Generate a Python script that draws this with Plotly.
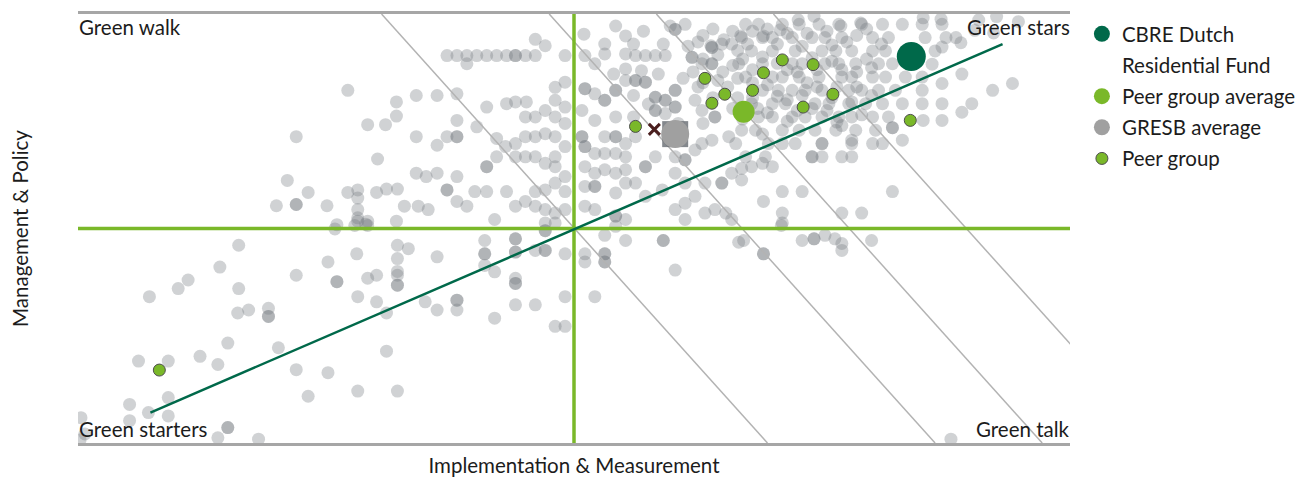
import plotly.graph_objects as go

# ---------------- text ----------------
x_title = "Implementation & Measurement"
y_title = "Management & Policy"
label_walk = "Green walk"
label_stars = "Green stars"
label_starters = "Green starters"
label_talk = "Green talk"
name_fund_line1 = "CBRE Dutch"
name_fund_line2 = "Residential Fund"
name_peer_avg = "Peer group average"
name_gresb_avg = "GRESB average"
name_peer = "Peer group"

# ---------------- highlighted entities (I&M score, M&P score) ----------------
fund_x, fund_y = [84.0], [90.1]
peer_avg_x, peer_avg_y = [67.1], [77.2]
gresb_avg_x, gresb_avg_y = [60.2], [72.0]
marker_cross_x, marker_cross_y = [58.1], [73.1]

peer_x = [63.2, 71.0, 74.1, 69.1, 65.2, 68.0, 63.9, 73.1, 76.1, 56.2, 83.9, 8.2]
peer_y = [85.0, 89.3, 88.2, 86.3, 81.3, 82.2, 79.2, 78.3, 81.3, 73.8, 75.2, 17.0]

# ---------------- reference lines ----------------
quadrant_split = 50
trend_x = [7.3, 93.2]
trend_y = [7.1, 93.0]
# iso-score lines: x where each line meets M&P = 100 and M&P = 0
iso_x_at_top = [30.6, 47.5, 58.3, 70.1]
iso_x_at_bottom = [69.5, 86.4, 97.2, 109.0]

# ---------------- GRESB universe (background cloud) ----------------
cloud_walk_far = [(27.2, 82.2), (32.1, 79.5), (32.1, 76.2), (29.2, 74.2), (31.0, 74.2), (22.0, 71.4),
                  (30.2, 66.2), (21.1, 61.2), (23.2, 58.4), (27.2, 58.4), (28.2, 59.0), (28.2, 57.1),
                  (30.1, 58.4), (31.1, 59.2), (32.2, 59.2), (20.0, 55.3), (22.0, 55.6), (22.0, 55.6),
                  (25.1, 55.3), (28.2, 54.4), (32.9, 55.2), (28.2, 51.7), (28.2, 52.5), (29.2, 51.7),
                  (29.0, 51.0), (32.1, 51.7), (26.1, 50.9)]
cloud_walk_near = [(46.1, 94.1), (47.1, 92.6), (37.2, 90.3), (38.2, 90.3), (39.2, 90.3), (40.2, 90.3),
                   (41.2, 90.3), (42.2, 90.3), (43.2, 90.3), (44.1, 90.3), (44.1, 90.3), (45.1, 90.3),
                   (46.1, 90.3), (39.2, 88.4), (49.1, 90.3), (49.1, 84.1), (48.1, 82.9), (34.1, 81.0),
                   (36.2, 81.0), (38.2, 81.4), (41.2, 78.3), (43.2, 79.1), (44.1, 79.5), (45.2, 79.5),
                   (45.1, 76.0), (46.1, 76.0), (47.1, 77.5), (48.1, 79.9), (49.1, 78.3), (48.1, 76.0),
                   (49.1, 74.5), (38.2, 75.2), (40.2, 73.7), (34.1, 71.4), (36.2, 69.4), (37.2, 71.4),
                   (38.2, 71.4), (38.2, 71.4), (42.2, 71.0), (43.1, 69.1), (44.1, 69.8), (45.1, 71.4),
                   (46.1, 71.4), (47.1, 72.1), (48.1, 71.4), (41.2, 64.4), (41.2, 64.4), (42.2, 66.7),
                   (44.1, 66.7), (45.1, 66.7), (46.1, 66.7), (47.1, 65.2), (48.1, 66.7), (49.1, 69.1),
                   (48.1, 64.4), (49.1, 62.1), (34.1, 62.9), (35.1, 62.1), (36.2, 62.9), (37.2, 59.0),
                   (37.2, 59.0), (38.2, 62.1), (40.0, 58.6), (41.2, 58.6), (43.2, 58.6), (45.1, 56.3),
                   (46.1, 58.6), (47.1, 59.0), (48.1, 60.6), (49.1, 58.6), (34.3, 55.2), (35.3, 54.4),
                   (38.2, 56.3), (39.2, 55.2), (42.0, 52.1), (44.1, 55.2), (46.1, 55.2), (47.1, 54.4),
                   (48.1, 53.6), (49.1, 54.4), (47.1, 51.3), (48.1, 51.3)]
cloud_stars_mid = [(51.0, 95.3), (54.2, 97.2), (55.2, 94.9), (53.1, 93.0), (60.2, 96.4), (60.2, 96.4),
                   (61.2, 97.6), (51.1, 90.3), (53.1, 90.7), (55.2, 90.7), (56.2, 90.3), (57.2, 90.3),
                   (58.2, 90.3), (59.2, 90.3), (52.1, 88.4), (55.2, 87.2), (56.8, 86.8), (51.1, 82.6),
                   (51.1, 82.6), (52.1, 81.4), (53.1, 79.9), (53.1, 79.9), (54.2, 82.2), (54.2, 82.2),
                   (55.2, 84.5), (56.2, 84.5), (56.2, 84.5), (57.2, 84.1), (57.2, 84.1), (58.2, 80.6),
                   (58.2, 80.6), (59.2, 79.9), (59.2, 79.9), (60.2, 82.2), (60.2, 82.2), (60.2, 78.3),
                   (60.2, 78.3), (58.2, 77.5), (58.2, 77.5), (59.2, 76.8), (61.9, 89.9), (61.9, 89.9),
                   (62.9, 88.4), (63.9, 92.2), (63.9, 92.2), (64.9, 93.0), (65.9, 93.0), (63.9, 88.4),
                   (63.9, 88.4), (62.2, 79.9), (62.9, 77.5), (64.2, 76.0), (64.2, 76.0), (65.6, 71.4),
                   (66.3, 69.8), (50.8, 77.5), (50.8, 71.4), (50.8, 71.4), (51.1, 69.1), (51.1, 69.1),
                   (52.1, 75.2), (54.2, 76.0), (53.1, 71.4), (54.2, 71.4), (54.2, 71.4), (55.2, 69.8),
                   (56.2, 71.4), (52.1, 67.5), (53.1, 67.5), (54.2, 67.5), (55.2, 66.7), (57.2, 64.4),
                   (57.2, 64.4), (58.2, 66.7), (60.2, 66.7), (61.2, 66.0), (61.2, 66.0), (62.2, 68.3),
                   (62.9, 69.8), (63.9, 70.6), (51.1, 64.4), (52.1, 62.9), (53.1, 63.7), (54.2, 62.9),
                   (55.2, 63.7), (55.2, 60.6), (56.2, 60.6), (52.1, 59.8), (52.1, 59.8), (51.1, 59.8),
                   (54.2, 58.3), (57.2, 57.5), (58.9, 59.0), (60.2, 62.9), (61.2, 60.6), (63.2, 60.6),
                   (64.9, 60.6), (64.9, 60.6), (65.9, 62.9), (61.2, 55.9), (62.2, 57.5), (60.2, 54.4),
                   (51.1, 55.2), (54.2, 52.9), (54.2, 52.9), (55.2, 52.1), (52.1, 54.4), (63.2, 53.6),
                   (64.2, 54.4), (65.3, 53.6), (65.9, 52.1), (61.2, 52.1)]
cloud_stars_top = [(59.7, 97.2), (63.8, 92.6), (65.1, 94.0), (66.8, 94.9), (69.1, 94.9), (70.8, 96.3),
                   (72.6, 98.6), (74.2, 99.5), (76.9, 97.2), (78.9, 97.9), (63.0, 95.0), (64.5, 90.5),
                   (66.0, 88.0), (63.0, 84.0), (65.5, 83.0), (62.0, 86.5), (64.0, 80.5), (66.0, 78.0),
                   (61.5, 92.5), (66.5, 91.5)]
cloud_stars_dense = [(67.3, 97.6), (68.6, 97.6), (71.0, 97.6), (72.7, 97.6), (74.7, 97.6), (76.7, 97.6),
                     (79.0, 97.6), (81.1, 97.6), (83.1, 97.6), (85.1, 97.6), (87.1, 97.6),
                     (66.9, 94.5), (69.0, 94.5), (70.0, 94.5), (72.0, 94.5), (74.0, 94.5), (75.3, 94.5),
                     (77.0, 94.5), (80.1, 94.5), (81.7, 94.5), (85.4, 94.5), (87.5, 94.5),
                     (67.9, 91.4), (70.0, 91.4), (72.3, 91.4), (75.0, 91.4), (76.4, 91.4), (78.0, 91.4),
                     (80.1, 91.4), (81.4, 91.4), (86.4, 91.4),
                     (66.6, 88.4), (69.0, 88.4), (72.0, 88.4), (73.0, 88.4), (75.3, 88.4), (76.7, 88.4),
                     (78.4, 88.4), (80.7, 88.4), (82.1, 88.4),
                     (67.3, 85.3), (70.0, 85.3), (71.0, 85.3), (72.7, 85.3), (74.7, 85.3), (77.0, 85.3),
                     (78.0, 85.3), (80.1, 85.3), (81.4, 85.3), (83.4, 85.3), (85.1, 85.3),
                     (69.0, 82.2), (70.6, 82.2), (72.0, 82.2), (73.3, 82.2), (75.0, 82.2), (77.7, 82.2),
                     (79.0, 82.2), (80.7, 82.2), (82.4, 82.2), (85.1, 82.2),
                     (67.9, 79.1), (70.0, 79.1), (71.3, 79.1), (74.3, 79.1), (75.7, 79.1), (77.7, 79.1),
                     (79.4, 79.1), (81.1, 79.1), (83.1, 79.1),
                     (68.6, 76.0), (70.0, 76.0), (72.0, 76.0), (73.3, 76.0), (75.0, 76.0), (76.7, 76.0),
                     (78.0, 76.0), (80.1, 76.0), (81.7, 76.0),
                     (66.9, 72.9), (68.3, 72.9), (71.0, 72.9), (72.7, 72.9), (74.3, 72.9), (76.4, 72.9),
                     (78.4, 72.9), (80.4, 72.9),
                     (69.6, 69.8), (71.0, 69.8), (72.3, 69.8), (75.0, 69.8), (78.0, 69.8), (80.1, 69.8),
                     (67.3, 66.7), (69.3, 66.7), (74.0, 66.7), (75.0, 66.7), (77.0, 66.7), (78.0, 66.7),
                     (68.0, 96.0), (70.5, 93.0), (73.5, 95.5), (76.0, 92.8), (78.5, 95.0), (69.0, 90.0),
                     (71.5, 87.0), (74.0, 89.8), (77.0, 87.0), (79.5, 89.5), (68.0, 84.0), (70.5, 80.8),
                     (73.5, 84.0), (76.0, 80.5), (78.5, 83.0), (68.5, 78.0), (71.5, 75.0), (74.0, 78.0),
                     (76.5, 74.8), (69.0, 72.0)]
cloud_stars_core = [(62.5, 93.5), (64.0, 96.5), (66.0, 96.0), (67.5, 93.0), (69.5, 96.5), (71.5, 95.5),
                    (73.0, 92.5), (75.5, 96.0), (77.5, 93.5), (79.5, 96.5), (81.0, 93.0), (63.0, 89.5),
                    (65.0, 86.5), (67.0, 89.5), (68.0, 87.0), (70.5, 88.5), (72.5, 86.5), (74.5, 87.0),
                    (76.0, 89.0), (78.5, 86.5), (80.0, 87.5), (62.5, 83.0), (64.5, 84.5), (66.5, 85.0),
                    (68.0, 80.5), (69.5, 83.5), (71.5, 80.0), (73.0, 81.0), (74.5, 83.0), (76.5, 83.0),
                    (78.0, 79.5), (80.0, 81.0), (66.5, 80.5), (67.0, 75.5), (69.5, 77.0), (72.5, 77.5),
                    (75.5, 77.5), (77.0, 74.0), (79.0, 76.5), (63.0, 74.5), (60.5, 74.5), (57.5, 79.0),
                    (56.0, 76.0), (58.5, 86.0), (54.0, 86.0), (56.0, 81.0), (61.0, 85.0), (59.0, 93.0),
                    (57.0, 96.0), (56.0, 93.0)]
cloud_stars_edge = [(71.0, 58.6), (73.0, 58.6), (69.1, 56.3), (71.0, 53.6), (77.0, 53.6), (79.0, 53.6),
                    (82.1, 58.6), (71.0, 51.3), (66.9, 64.0), (67.9, 64.4), (69.0, 65.2), (70.0, 64.4),
                    (66.9, 61.3), (74.0, 66.7), (75.0, 69.8), (78.0, 70.6), (81.1, 69.8), (83.1, 70.6),
                    (82.1, 73.5), (82.1, 73.5), (87.1, 75.2), (85.2, 75.2), (85.1, 79.1), (87.1, 79.1),
                    (89.1, 77.1), (90.1, 79.1), (92.2, 82.2), (94.2, 83.8), (87.1, 83.8), (89.1, 86.0),
                    (86.1, 88.3), (87.1, 92.3), (88.5, 94.5), (89.0, 93.3), (85.2, 99.1), (87.0, 98.8),
                    (90.8, 98.6), (92.6, 99.4), (94.8, 98.2), (90.4, 96.2), (92.3, 95.6)]
cloud_starters = [(16.2, 46.1), (14.3, 41.0), (11.1, 38.0), (10.1, 36.0), (7.2, 34.1), (16.2, 36.0),
                  (17.2, 31.0), (16.1, 30.3), (19.2, 31.4), (19.2, 29.5), (19.2, 29.5), (15.1, 23.3),
                  (20.2, 22.2), (12.3, 20.2), (14.1, 18.3), (9.1, 19.1), (6.1, 19.1), (5.2, 9.0),
                  (9.1, 10.6), (7.1, 7.1), (9.1, 6.3), (5.2, 5.2), (15.1, 3.6), (15.1, 3.6), (18.2, 0.9),
                  (14.1, 1.2), (0.3, 5.9), (0.7, 2.1), (0.2, 0.7), (22.0, 39.1), (22.0, 17.1), (25.2, 42.2),
                  (26.1, 37.6), (26.1, 37.6), (28.1, 44.1), (28.2, 34.1), (29.2, 38.4), (30.1, 39.1),
                  (30.1, 32.9), (31.1, 30.3), (31.1, 21.4), (25.2, 16.4), (23.2, 10.9), (28.2, 12.1),
                  (32.2, 12.1), (32.2, 46.1), (32.2, 43.0), (32.2, 40.0), (32.2, 39.1), (32.2, 36.8),
                  (32.2, 36.8), (25.9, 49.9), (27.9, 50.7), (29.2, 50.7)]
cloud_starters_near = [(33.3, 45.3), (36.2, 43.4), (41.0, 47.2), (41.0, 44.1), (41.0, 44.1), (41.0, 41.4),
                       (42.0, 39.9), (44.1, 47.6), (44.1, 47.6), (44.1, 44.5), (44.1, 44.5), (46.1, 44.9),
                       (47.1, 44.9), (47.1, 44.9), (47.1, 49.5), (47.1, 49.5), (49.1, 44.1), (44.1, 38.4),
                       (44.1, 37.2), (44.1, 37.2), (35.0, 32.9), (36.2, 31.0), (38.2, 33.3), (38.2, 33.3),
                       (38.2, 31.0), (42.0, 29.1), (44.1, 32.2), (46.1, 32.2), (49.1, 34.1), (48.1, 27.2),
                       (49.1, 27.2)]
cloud_talk = [(51.1, 44.1), (51.1, 42.2), (53.1, 48.4), (53.1, 44.1), (53.1, 44.1), (53.1, 42.2),
              (53.1, 42.2), (55.2, 47.2), (59.0, 47.2), (59.0, 47.2), (60.2, 40.3), (52.1, 34.1),
              (54.2, 50.5), (66.6, 46.8), (67.1, 47.2), (69.1, 44.1), (69.1, 44.1), (73.0, 47.2),
              (74.2, 47.6), (74.2, 47.6), (75.3, 48.4), (76.3, 47.6), (77.0, 46.5), (77.0, 44.9),
              (80.0, 47.2), (70.9, 50.7), (88.0, 0.9)]

cloud = (cloud_walk_far + cloud_walk_near + cloud_stars_mid + cloud_stars_top + cloud_stars_dense
         + cloud_stars_core + cloud_stars_edge + cloud_starters + cloud_starters_near + cloud_talk)
cloud_x = [p[0] for p in cloud]
cloud_y = [p[1] for p in cloud]

# ---------------- styles ----------------
FONT = "Lato, 'Open Sans', sans-serif"
FS = 20.5
TEXT_COLOR = "#1c1c1c"
LIME = "#7AB829"
DARK_GREEN = "#00694A"
GREY_DOT = "rgb(118,123,130)"

fig = go.Figure()

# background cloud
fig.add_trace(go.Scatter(x=cloud_x, y=cloud_y, mode="markers", showlegend=False, hoverinfo="skip",
                         marker=dict(size=13, color=GREY_DOT, opacity=0.34, line=dict(width=0))))

# iso-score diagonal lines
iso_x, iso_y = [], []
for xt, xb in zip(iso_x_at_top, iso_x_at_bottom):
    iso_x += [xt, xb, None]
    iso_y += [100, 0, None]
fig.add_trace(go.Scatter(x=iso_x, y=iso_y, mode="lines", showlegend=False, hoverinfo="skip",
                         line=dict(color="#B3B3B3", width=1.5)))

# quadrant cross
fig.add_trace(go.Scatter(x=[quadrant_split, quadrant_split, None, 0, 100],
                         y=[0, 100, None, quadrant_split, quadrant_split],
                         mode="lines", showlegend=False, hoverinfo="skip",
                         line=dict(color=LIME, width=3.5)))

# trend diagonal
fig.add_trace(go.Scatter(x=trend_x, y=trend_y, mode="lines", showlegend=False, hoverinfo="skip",
                         line=dict(color=DARK_GREEN, width=2.5)))

# square highlight behind GRESB average
fig.add_trace(go.Scatter(x=gresb_avg_x, y=gresb_avg_y, mode="markers", showlegend=False, hoverinfo="skip",
                         marker=dict(symbol="square", size=26, color="rgba(85,90,97,0.72)",
                                     line=dict(width=0))))

# cross marker
fig.add_trace(go.Scatter(x=marker_cross_x, y=marker_cross_y, mode="markers", showlegend=False,
                         hoverinfo="skip",
                         marker=dict(symbol="x-thin-open", size=11, color="#4A1E1E",
                                     line=dict(width=3, color="#4A1E1E"))))

# legend traces
fig.add_trace(go.Scatter(x=gresb_avg_x, y=gresb_avg_y, mode="markers", name=name_gresb_avg,
                         legendrank=4, legendgroup="g4",
                         marker=dict(size=28, color="#A0A0A0", line=dict(width=0))))
fig.add_trace(go.Scatter(x=peer_x, y=peer_y, mode="markers", name=name_peer,
                         legendrank=5, legendgroup="g5",
                         marker=dict(size=12, color=LIME, line=dict(width=1, color="#4D4D4D"))))
fig.add_trace(go.Scatter(x=peer_avg_x, y=peer_avg_y, mode="markers", name=name_peer_avg,
                         legendrank=3, legendgroup="g3",
                         marker=dict(size=22, color=LIME, line=dict(width=0))))
fig.add_trace(go.Scatter(x=fund_x, y=fund_y, mode="markers", name=name_fund_line1,
                         legendrank=1, legendgroup="g1",
                         marker=dict(size=29, color=DARK_GREEN, line=dict(width=0))))
# second line of the fund's legend label (no symbol of its own)
fig.add_trace(go.Scatter(x=[None], y=[None], mode="markers", name=name_fund_line2,
                         legendrank=2, legendgroup="g2", hoverinfo="skip",
                         marker=dict(size=1, color="rgba(0,0,0,0)", line=dict(width=0))))

# quadrant labels
qfont = dict(family=FONT, size=FS, color=TEXT_COLOR)
fig.add_annotation(x=0, y=100, text=label_walk, showarrow=False, xanchor="left", yanchor="top",
                   font=qfont, xshift=-1, yshift=1)
fig.add_annotation(x=100, y=100, text=label_stars, showarrow=False, xanchor="right", yanchor="top",
                   font=qfont, xshift=2, yshift=1)
fig.add_annotation(x=0, y=0, text=label_starters, showarrow=False, xanchor="left", yanchor="bottom",
                   font=qfont, xshift=-1)
fig.add_annotation(x=100, y=0, text=label_talk, showarrow=False, xanchor="right", yanchor="bottom",
                   font=qfont, xshift=2)

# page body has an 8px margin: size figure so the plot area sits at the reference position
fig.update_layout(
    width=1298, height=469,
    margin=dict(l=70, r=236, t=3, b=34),
    paper_bgcolor="white", plot_bgcolor="white",
    font=dict(family=FONT, size=FS, color=TEXT_COLOR),
    xaxis=dict(range=[0, 100], showgrid=False, zeroline=False, showticklabels=False, ticks="",
               showline=True, mirror=True, linecolor="#A6A6A6", linewidth=3,
               title=dict(text=x_title, standoff=16, font=dict(size=FS))),
    yaxis=dict(range=[0, 100], showgrid=False, zeroline=False, showticklabels=False, ticks="",
               showline=False,
               title=dict(text=y_title, standoff=50, font=dict(size=FS))),
    legend=dict(x=1.012, y=1.0, xanchor="left", yanchor="top", traceorder="grouped",
                font=dict(family=FONT, size=FS, color=TEXT_COLOR), valign="middle",
                itemsizing="trace", tracegroupgap=1.5, bgcolor="rgba(0,0,0,0)"),
    showlegend=True,
)

fig.write_html("out.html")
